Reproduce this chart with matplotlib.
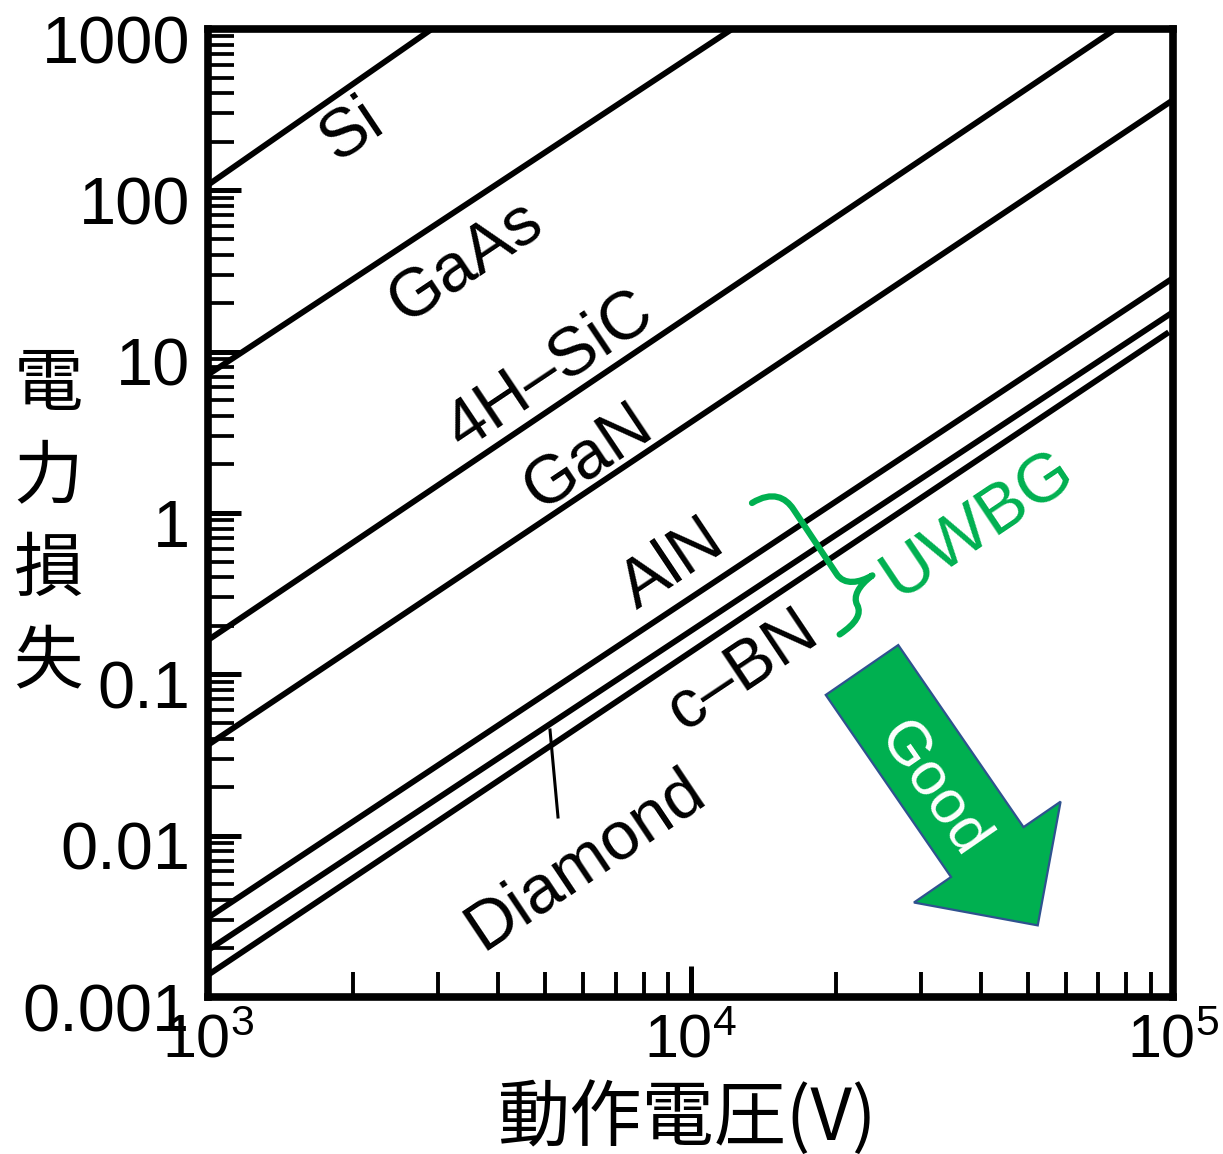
import matplotlib

matplotlib.use("Agg")
import matplotlib.pyplot as plt
import numpy as np
from matplotlib.lines import Line2D
from matplotlib.patches import PathPatch, Polygon
from matplotlib.path import Path
from matplotlib.ticker import FixedFormatter, FixedLocator, LogLocator, NullFormatter
from matplotlib.transforms import ScaledTranslation

W, H = 1223, 1154
GREEN = "#00B050"
JP = "Noto Sans CJK JP"

plt.rcParams["font.family"] = ["Liberation Sans", JP, "DejaVu Sans"]
plt.rcParams["mathtext.fontset"] = "custom"
plt.rcParams["mathtext.rm"] = "Liberation Sans"

# data: each line from a start point to an end point
materials = ["Si", "GaAs", "4H–SiC", "GaN", "AlN", "c–BN", "Diamond"]
volt_start = [1e3, 1e3, 1e3, 1e3, 1e3, 1e3, 1e3]
volt_end = [2.91e3, 1.22e4, 7.6e4, 1e5, 1e5, 1e5, 9.8e4]
loss_start = [108, 7.2, 0.163, 0.0365, 0.0031, 0.00195, 0.00137]
loss_end = [1000, 1000, 1000, 363, 28.6, 17.6, 13.2]

x_ticks = [1e3, 1e4, 1e5]
x_tick_labels = [r"$\mathregular{10^{3}}$", r"$\mathregular{10^{4}}$", r"$\mathregular{10^{5}}$"]
y_ticks = [1e-3, 1e-2, 1e-1, 1, 10, 100, 1000]
y_tick_labels = ["0.001", "0.01", "0.1", "1", "10", "100", "1000"]

# label centres in image pixels
label_pos = {
    "Si": (352, 130),
    "GaAs": (466, 262),
    "4H–SiC": (550, 370),
    "GaN": (588, 458),
    "AlN": (672, 565),
    "c–BN": (742, 670),
    "Diamond": (585, 860),
}


def fxy(px, py):
    return px / W, 1 - py / H


fig = plt.figure(figsize=(W / 100, H / 100), dpi=100, facecolor="white")
ax = fig.add_axes([208 / W, 1 - 997 / H, (1173 - 208) / W, (997 - 29) / H])
ax.set_xscale("log")
ax.set_yscale("log")
ax.set_xlim(1e3, 1e5)
ax.set_ylim(1e-3, 1e3)

for vs, ve, ls, le in zip(volt_start, volt_end, loss_start, loss_end):
    ax.plot([vs, ve], [ls, le], color="black", lw=4.2, solid_capstyle="butt")

ax.xaxis.set_major_locator(FixedLocator(x_ticks))
ax.xaxis.set_major_formatter(FixedFormatter(x_tick_labels))
ax.xaxis.set_minor_locator(LogLocator(base=10, subs=np.arange(2, 10), numticks=50))
ax.xaxis.set_minor_formatter(NullFormatter())
ax.yaxis.set_major_locator(FixedLocator(y_ticks))
ax.yaxis.set_major_formatter(FixedFormatter(y_tick_labels))
ax.yaxis.set_minor_locator(LogLocator(base=10, subs=np.arange(2, 10), numticks=50))
ax.yaxis.set_minor_formatter(NullFormatter())

ax.tick_params(which="both", direction="in", top=False, right=False)
ax.tick_params(axis="x", which="major", length=22, width=3.6, pad=12, labelsize=44)
ax.tick_params(axis="x", which="minor", length=18, width=2.8)
ax.tick_params(axis="y", which="major", length=23.5, width=3.6, pad=13, labelsize=48)
ax.tick_params(axis="y", which="minor", length=18.7, width=2.7)
for sp in ax.spines.values():
    sp.set_linewidth(5.5)

shift = ScaledTranslation(0, -10 / 100, fig.dpi_scale_trans)
for lbl in ax.get_yticklabels():
    lbl.set_transform(lbl.get_transform() + shift)

# slope-2 lines: rotation on screen
p0, p1 = ax.transData.transform([(1e3, 1e-3), (1e4, 1e-1)])
angle = np.degrees(np.arctan2(p1[1] - p0[1], p1[0] - p0[0]))

for name in materials:
    px, py = label_pos[name]
    fig.text(*fxy(px, py), name, fontsize=49, rotation=angle,
             rotation_mode="anchor", ha="center", va="center")

# pointer from the Diamond label to its line
fig.add_artist(Line2D([558 / W, 550 / W], [1 - 817 / H, 1 - 730 / H],
                      transform=fig.transFigure, color="black", lw=2.2))

# UWBG brace (local frame: u along the brace, v towards the cusp)
start = np.array([752.0, 503.0])
axis_u = np.array([88.0, 132.0]) / np.hypot(88, 132)
axis_v = np.array([axis_u[1], -axis_u[0]])
local = [(0, 0), (1, 24), (14, 31), (28, 31),
         (106, 31),
         (120, 31), (126, 45), (127, 60),
         (128, 42), (134, 32), (143, 31),
         (153, 30), (158, 20), (158, 0)]
codes = [Path.MOVETO] + [Path.CURVE4] * 3 + [Path.LINETO] + [Path.CURVE4] * 9
verts = []
for u, v in local:
    p = start + u * axis_u + v * axis_v
    verts.append(fxy(*p))
fig.add_artist(PathPatch(Path(verts, codes), transform=fig.transFigure,
                         fill=False, edgecolor=GREEN, lw=4.5,
                         capstyle="round", joinstyle="round"))
fig.text(*fxy(978, 525), "UWBG", fontsize=50, color=GREEN, rotation=angle,
         rotation_mode="anchor", ha="center", va="center")

# "Good" block arrow
tail = np.array([862.0, 670.0])
d = np.array([0.567, 0.824])
d = d / np.hypot(*d)
n = np.array([d[1], -d[0]])
shaft_len, head_len, shaft_hw, head_hw = 221, 89, 44, 89
base = tail + shaft_len * d
corners = [tail - shaft_hw * n, tail + shaft_hw * n,
           base + shaft_hw * n, base + head_hw * n,
           tail + (shaft_len + head_len) * d,
           base - head_hw * n, base - shaft_hw * n]
fig.add_artist(Polygon([fxy(*c) for c in corners], closed=True,
                       transform=fig.transFigure, facecolor=GREEN,
                       edgecolor="#2F528F", lw=1.6))
good_angle = np.degrees(np.arctan2(-d[1], d[0]))
fig.text(*fxy(933, 790), "Good", fontsize=44, color="white",
         rotation=good_angle, rotation_mode="anchor", ha="center", va="center")

# axis titles
fig.text(*fxy(688, 1118), "動作電圧(V)", fontsize=52, family=JP,
         ha="center", va="center")
for i, ch in enumerate("電力損失"):
    fig.text(*fxy(48, 385 + i * 92.7), ch, fontsize=50, family=JP,
             ha="center", va="center")

fig.savefig("out.png", dpi=100, facecolor="white")
